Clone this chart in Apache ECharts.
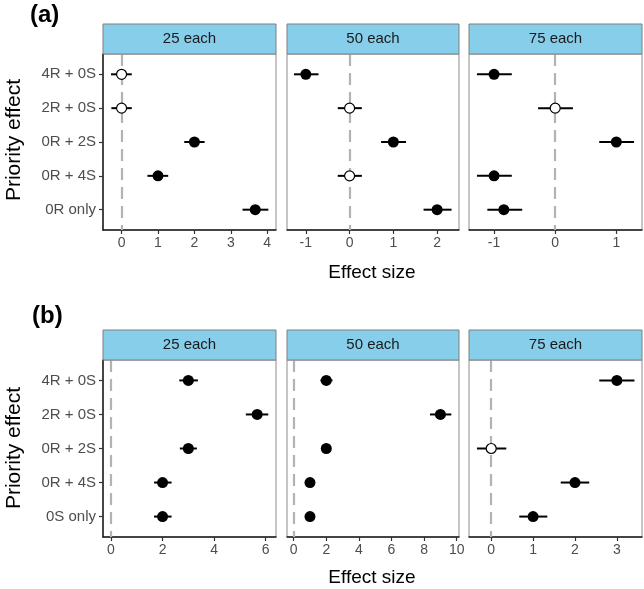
<!DOCTYPE html>
<html>
<head>
<meta charset="utf-8">
<script src="https://cdn.jsdelivr.net/npm/echarts@6/dist/echarts.min.js"></script>
<style>
  html, body { margin: 0; padding: 0; background: #fff; }
  #chart { width: 644px; height: 589px; }
</style>
</head>
<body>
<div id="chart"></div>
<script>
// row labels (top to bottom) and facet titles
const rowsA = ['4R + 0S', '2R + 0S', '0R + 2S', '0R + 4S', '0R only'];
const rowsB = ['4R + 0S', '2R + 0S', '0R + 2S', '0R + 4S', '0S only'];
const facets = ['25 each', '50 each', '75 each'];

// panel (a): estimate, lower, upper, significant (filled) flag
const a25Est = [0, 0, 2, 1, 3.67];
const a25Lo  = [-0.29, -0.28, 1.72, 0.71, 3.32];
const a25Hi  = [0.28, 0.28, 2.28, 1.28, 4.03];
const a25Sig = [0, 0, 1, 1, 1];

const a50Est = [-1, 0, 1, 0, 2];
const a50Lo  = [-1.27, -0.27, 0.72, -0.27, 1.69];
const a50Hi  = [-0.71, 0.28, 1.29, 0.28, 2.33];
const a50Sig = [1, 0, 1, 0, 1];

const a75Est = [-1, 0, 1, -1, -0.84];
const a75Lo  = [-1.28, -0.28, 0.72, -1.28, -1.11];
const a75Hi  = [-0.71, 0.29, 1.29, -0.71, -0.54];
const a75Sig = [1, 0, 1, 1, 1];

// panel (b)
const b25Est = [3, 5.67, 3, 2, 2];
const b25Lo  = [2.65, 5.23, 2.67, 1.67, 1.67];
const b25Hi  = [3.37, 6.1, 3.33, 2.35, 2.35];
const b25Sig = [1, 1, 1, 1, 1];

const b50Est = [2, 9, 2, 1, 1];
const b50Lo  = [1.64, 8.36, 1.7, 0.7, 0.7];
const b50Hi  = [2.38, 9.67, 2.3, 1.3, 1.3];
const b50Sig = [1, 1, 1, 1, 1];

const b75Est = [3, null, 0, 2, 1];
const b75Lo  = [2.58, null, -0.34, 1.66, 0.67];
const b75Hi  = [3.42, null, 0.36, 2.34, 1.34];
const b75Sig = [1, 0, 0, 1, 1];

// x axis ranges and tick labels per panel
const xMinA = [-0.51, -1.43, -1.41];
const xMaxA = [4.24, 2.5, 1.42];
const xTicksA = [[0, 1, 2, 3, 4], [-1, 0, 1, 2], [-1, 0, 1]];
const xMinB = [-0.31, -0.41, -0.53];
const xMaxB = [6.4, 10.14, 3.6];
const xTicksB = [[0, 2, 4, 6], [0, 2, 4, 6, 8, 10], [0, 1, 2, 3]];

const yTicks = [1, 2, 3, 4, 5];

// layout
const colLeft = [103, 287, 469];
const colWidth = [173, 172, 173];
const rowTop = [54, 360];
const rowHeight = [176, 177];
const stripH = 30;
const FONT = '"Liberation Sans", Arial, Helvetica, sans-serif';

const panels = [
  { r: 0, c: 0, rows: rowsA, est: a25Est, lo: a25Lo, hi: a25Hi, sig: a25Sig },
  { r: 0, c: 1, rows: rowsA, est: a50Est, lo: a50Lo, hi: a50Hi, sig: a50Sig },
  { r: 0, c: 2, rows: rowsA, est: a75Est, lo: a75Lo, hi: a75Hi, sig: a75Sig },
  { r: 1, c: 0, rows: rowsB, est: b25Est, lo: b25Lo, hi: b25Hi, sig: b25Sig },
  { r: 1, c: 1, rows: rowsB, est: b50Est, lo: b50Lo, hi: b50Hi, sig: b50Sig },
  { r: 1, c: 2, rows: rowsB, est: b75Est, lo: b75Lo, hi: b75Hi, sig: b75Sig }
];

const grid = [], xAxis = [], yAxis = [], series = [], graphic = [];

panels.forEach((p, i) => {
  grid.push({
    left: colLeft[p.c], top: rowTop[p.r], width: colWidth[p.c], height: rowHeight[p.r],
    show: true, borderColor: '#8c8c8c', borderWidth: 1, backgroundColor: '#fff'
  });
  const ticks = p.r === 0 ? xTicksA[p.c] : xTicksB[p.c];
  xAxis.push({
    type: 'value', gridIndex: i,
    min: p.r === 0 ? xMinA[p.c] : xMinB[p.c],
    max: p.r === 0 ? xMaxA[p.c] : xMaxB[p.c],
    splitLine: { show: false },
    axisLine: { show: true, onZero: false, lineStyle: { color: '#1a1a1a', width: 1.5 } },
    axisTick: { show: true, length: 4, customValues: ticks, lineStyle: { color: '#333', width: 1.2 } },
    axisLabel: { customValues: ticks, color: '#4d4d4d', fontSize: 14, fontFamily: FONT, margin: 6 }
  });
  const rows = p.rows;
  yAxis.push({
    type: 'value', gridIndex: i, min: 0.4, max: 5.6, inverse: true,
    splitLine: { show: false },
    axisLine: { show: p.c === 0, onZero: false, lineStyle: { color: '#1a1a1a', width: 1.5 } },
    axisTick: { show: p.c === 0, length: 4, customValues: yTicks, lineStyle: { color: '#333', width: 1.2 } },
    axisLabel: {
      show: p.c === 0, customValues: yTicks, color: '#4d4d4d', fontSize: 15, fontFamily: FONT, margin: 7,
      formatter: v => rows[v - 1]
    }
  });

  const bars = [], filled = [], open = [];
  p.est.forEach((e, k) => {
    if (e === null) return;
    bars.push([p.lo[k], p.hi[k], k + 1]);
    if (p.sig[k]) filled.push([e, k + 1]); else open.push([e, k + 1]);
  });

  series.push({
    type: 'custom', xAxisIndex: i, yAxisIndex: i, z: 2, silent: true,
    data: bars,
    encode: { x: [0, 1], y: 2 },
    renderItem: (params, api) => {
      const a = api.coord([api.value(0), api.value(2)]);
      const b = api.coord([api.value(1), api.value(2)]);
      return {
        type: 'line',
        shape: { x1: a[0], y1: a[1], x2: b[0], y2: b[1] },
        style: { stroke: '#000', lineWidth: 2 }
      };
    },
    markLine: {
      z: 1, silent: true, symbol: 'none', label: { show: false },
      lineStyle: { color: '#b3b3b3', width: 2.2, type: [12, 7] },
      data: [{ xAxis: 0 }]
    }
  });
  series.push({
    type: 'scatter', xAxisIndex: i, yAxisIndex: i, z: 3, silent: true,
    symbolSize: 11, data: filled,
    itemStyle: { color: '#000', opacity: 1 }
  });
  series.push({
    type: 'scatter', xAxisIndex: i, yAxisIndex: i, z: 3, silent: true,
    symbolSize: 10, data: open,
    itemStyle: { color: '#fff', borderColor: '#000', borderWidth: 1.2, opacity: 1 }
  });

  // facet strip
  graphic.push({
    type: 'rect', z: 10,
    shape: { x: colLeft[p.c], y: rowTop[p.r] - stripH, width: colWidth[p.c], height: stripH },
    style: { fill: '#87ceeb', stroke: '#7f7f7f', lineWidth: 1 }
  });
  graphic.push({
    type: 'text', z: 11,
    x: colLeft[p.c] + colWidth[p.c] / 2, y: rowTop[p.r] - stripH / 2,
    style: {
      text: facets[p.c], fill: '#1a1a1a', font: '15px ' + FONT,
      align: 'center', verticalAlign: 'middle'
    }
  });
});

// panel letters and axis titles
graphic.push(
  { type: 'text', x: 30, y: 15, style: { text: '(a)', fill: '#000', font: 'bold 24px ' + FONT, verticalAlign: 'middle' } },
  { type: 'text', x: 32, y: 316, style: { text: '(b)', fill: '#000', font: 'bold 24px ' + FONT, verticalAlign: 'middle' } },
  { type: 'text', x: 372, y: 273, style: { text: 'Effect size', fill: '#000', font: '19px ' + FONT, align: 'center', verticalAlign: 'middle' } },
  { type: 'text', x: 372, y: 578, style: { text: 'Effect size', fill: '#000', font: '19px ' + FONT, align: 'center', verticalAlign: 'middle' } },
  { type: 'text', x: 14, y: 140, rotation: Math.PI / 2, style: { text: 'Priority effect', fill: '#000', font: '21px ' + FONT, align: 'center', verticalAlign: 'middle' } },
  { type: 'text', x: 14, y: 448, rotation: Math.PI / 2, style: { text: 'Priority effect', fill: '#000', font: '21px ' + FONT, align: 'center', verticalAlign: 'middle' } }
);

const chart = echarts.init(document.getElementById('chart'));
chart.setOption({
  animation: false,
  backgroundColor: '#fff',
  grid, xAxis, yAxis, series, graphic
});
</script>
</body>
</html>
